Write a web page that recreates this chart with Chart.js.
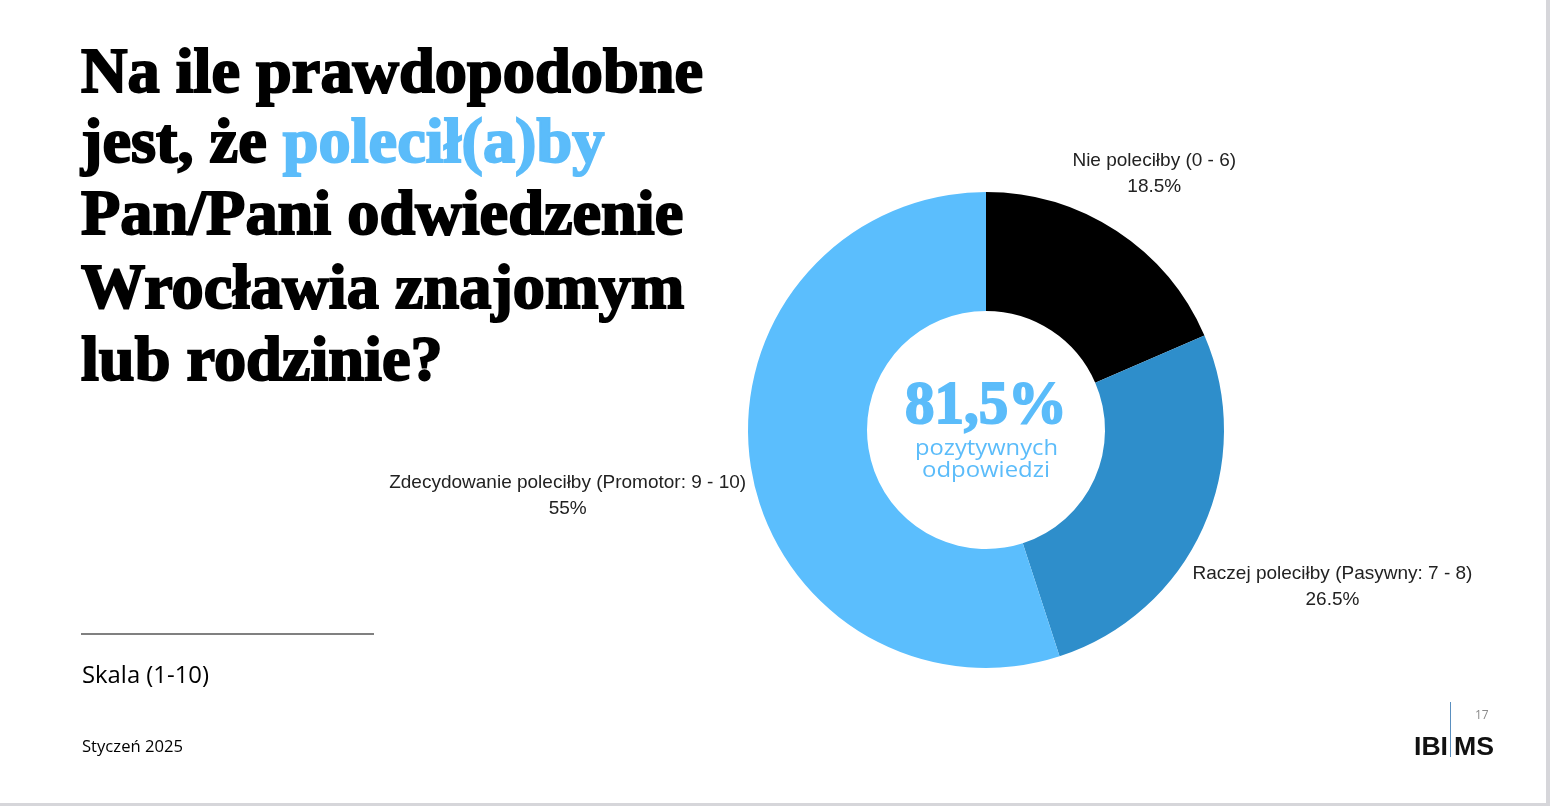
<!DOCTYPE html>
<html>
<head>
<meta charset="utf-8">
<script src="https://cdn.jsdelivr.net/npm/chart.js@4.4.1/dist/chart.umd.min.js"></script>
<style>
  html, body { margin: 0; padding: 0; background: #d6d6da; width: 1550px; height: 806px; overflow: hidden; }
  #slide { position: absolute; left: 0; top: 0; width: 1546px; height: 803px; background: #fff; }
  #chart { position: absolute; left: 0; top: 0; }
  .t { position: absolute; white-space: nowrap; transform-origin: 0 0; }
  .title { font-family: "Liberation Serif", serif; font-weight: bold; font-size: 64px; color: #000; -webkit-text-stroke: 2px #000; }
  .hl { color: #5bbcfa; -webkit-text-stroke: 2px #5bbcfa; }
  .big { font-family: "Liberation Serif", serif; font-weight: bold; font-size: 62px; color: #5bbcfa; -webkit-text-stroke: 2px #5bbcfa; }
  .sub { font-family: "Open Sans", sans-serif; font-size: 21px; color: #5bbcfa; }
  .note { font-family: "Open Sans", sans-serif; color: #000; }
  .logo { font-family: "Liberation Sans", Arial, sans-serif; font-weight: bold; font-size: 25px; color: #111; }
  #rule { position: absolute; left: 81px; top: 633px; width: 293px; height: 2px; background: #808080; }
  #bar { position: absolute; left: 1450px; top: 702px; width: 1px; height: 55px; background: #5a8fbf; }
</style>
</head>
<body>
<div id="slide"></div>
<canvas id="chart" width="1550" height="806"></canvas>

<div class="t title" id="l1">Na ile prawdopodobne</div>
<div class="t title" id="l2">jest, że <span class="hl">polecił(a)by</span></div>
<div class="t title" id="l3">Pan/Pani odwiedzenie</div>
<div class="t title" id="l4">Wrocławia znajomym</div>
<div class="t title" id="l5">lub rodzinie?</div>

<div class="t big" id="c1">81,5%</div>
<div class="t sub" id="c2">pozytywnych</div>
<div class="t sub" id="c3">odpowiedzi</div>

<div id="rule"></div>
<div class="t note" id="scale" style="font-size:24px">Skala (1-10)</div>
<div class="t note" id="date" style="font-size:17px">Styczeń 2025</div>

<div class="t logo" id="ibi">IBI</div>
<div class="t logo" id="ms">MS</div>
<div id="bar"></div>
<div class="t note" id="page" style="font-size:12px;color:#8a8a8a">17</div>

<script>
// data
const labels = ["Nie poleciłby (0 - 6)", "Raczej poleciłby (Pasywny: 7 - 8)", "Zdecydowanie poleciłby (Promotor: 9 - 10)"];
const values = [18.5, 26.5, 55];
const colors = ["#000000", "#2e8ecb", "#5bbefd"];

// baseline offset of a text element, measured with an empty inline-block
function baseline(el) {
	const m = document.createElement("span");
	m.style.cssText = "display:inline-block;width:0;height:0;vertical-align:baseline";
	el.appendChild(m);
	return m.getBoundingClientRect().top - el.getBoundingClientRect().top;
}

// put a text element so its baseline sits at y, optionally stretched to a width
function place(id, x, base, align, width, scale) {
	const el = document.getElementById(id);
	el.style.left = "0px";
	el.style.top = "0px";
	const b = baseline(el);
	const raw = el.getBoundingClientRect().width;
	const k = scale || (width ? width / raw : 1);
	el.style.transform = `scaleX(${k})`;
	const w = raw * k;
	el.style.left = (align === "center" ? x - w / 2 : x) + "px";
	el.style.top = base - b + "px";
	return k;
}

const k = place("l1", 81, 92, "left", 622);
place("l2", 81, 162, "left", 0, k);
place("l3", 81, 234, "left", 0, k);
place("l4", 81, 308, "left", 0, k);
place("l5", 81, 380, "left", 0, k);

place("c1", 986, 423, "center", 162);
place("c2", 986, 455, "center", 143);
place("c3", 986, 477, "center", 128);
place("scale", 82, 683, "left", 127);
place("date", 82, 752, "left", 101);
place("ibi", 1414, 755, "left", 34);
place("ms", 1454, 755, "left", 40);
place("page", 1475, 719, "left");

// labels outside the slices, on the ray through the middle of each arc
const sliceLabels = {
	id: "sliceLabels",
	afterDatasetsDraw(chart) {
		const ctx = chart.ctx;
		const meta = chart.getDatasetMeta(0);
		ctx.save();
		ctx.font = '19px "Liberation Sans", Arial, sans-serif';
		ctx.fillStyle = "#222222";
		ctx.textAlign = "center";
		ctx.textBaseline = "middle";
		meta.data.forEach((arc, i) => {
			const p = arc.getProps(["x", "y", "startAngle", "endAngle", "outerRadius"], true);
			const mid = (p.startAngle + p.endAngle) / 2;
			const lines = [labels[i], values[i] + "%"];
			const hw = Math.max(...lines.map((t) => ctx.measureText(t).width)) / 2;
			const hh = 21;
			const ux = Math.cos(mid);
			const uy = Math.sin(mid);
			const d = p.outerRadius + 6 + hw * Math.abs(ux) + hh * Math.abs(uy);
			const cx = p.x + ux * d;
			const cy = p.y + uy * d;
			ctx.fillText(lines[0], cx, cy - 13);
			ctx.fillText(lines[1], cx, cy + 13);
		});
		ctx.restore();
	},
};

new Chart(document.getElementById("chart"), {
	type: "doughnut",
	data: {
		labels: labels,
		datasets: [
			{
				data: values,
				backgroundColor: colors,
				borderWidth: 0,
				hoverOffset: 0,
			},
		],
	},
	options: {
		responsive: false,
		animation: false,
		cutout: "50%",
		layout: { padding: { left: 748, right: 326, top: 192, bottom: 138 } },
		plugins: {
			legend: { display: false },
			tooltip: { enabled: false },
		},
	},
	plugins: [sliceLabels],
});
</script>
</body>
</html>
